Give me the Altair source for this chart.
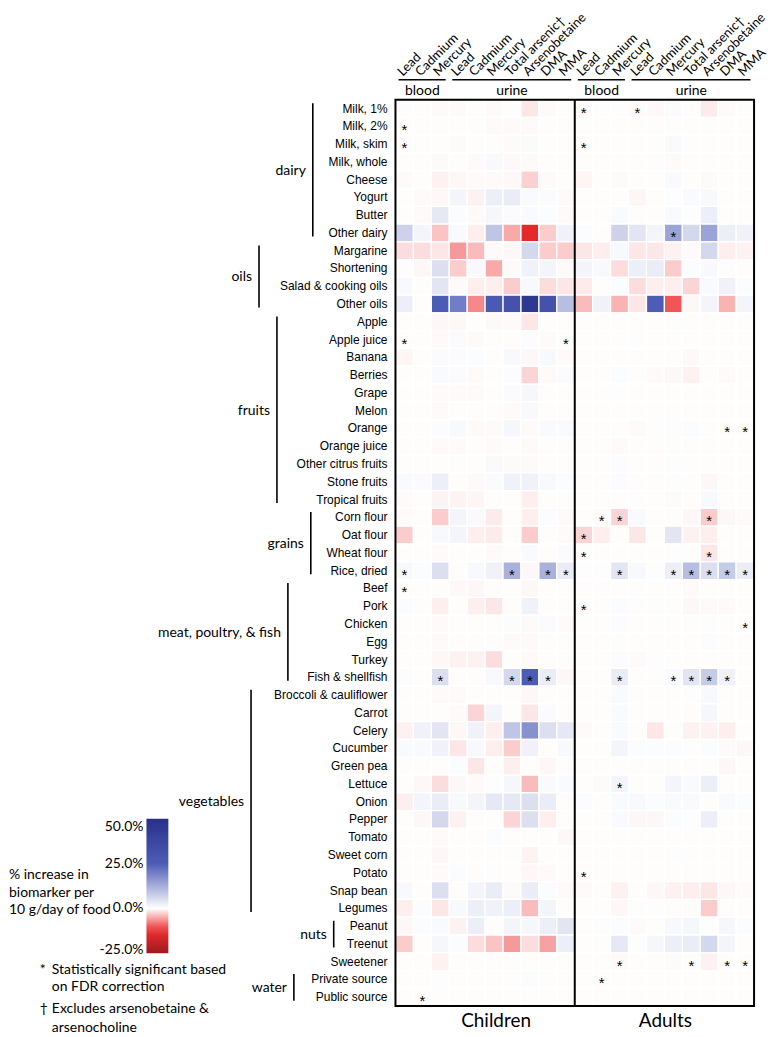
import altair as alt
import pandas as pd

foods = ["Milk, 1%", "Milk, 2%", "Milk, skim", "Milk, whole", "Cheese", "Yogurt", "Butter", "Other dairy",
         "Margarine", "Shortening", "Salad & cooking oils", "Other oils",
         "Apple", "Apple juice", "Banana", "Berries", "Grape", "Melon", "Orange", "Orange juice",
         "Other citrus fruits", "Stone fruits", "Tropical fruits",
         "Corn flour", "Oat flour", "Wheat flour", "Rice, dried",
         "Beef", "Pork", "Chicken", "Egg", "Turkey", "Fish & shellfish",
         "Broccoli & cauliflower", "Carrot", "Celery", "Cucumber", "Green pea", "Lettuce", "Onion",
         "Pepper", "Tomato", "Sweet corn", "Potato", "Snap bean", "Legumes",
         "Peanut", "Treenut", "Sweetener", "Private source", "Public source"]

group_names = ["dairy", "oils", "fruits", "grains", "meat, poultry, & fish", "vegetables", "nuts", "water"]
group_first = ["Milk, 1%", "Margarine", "Apple", "Corn flour", "Beef", "Broccoli & cauliflower", "Peanut", "Private source"]
group_last = ["Other dairy", "Other oils", "Tropical fruits", "Rice, dried", "Fish & shellfish", "Legumes", "Treenut", "Public source"]

col_keys = ["C0", "C1", "C2", "C3", "C4", "C5", "C6", "C7", "C8", "C9",
            "A0", "A1", "A2", "A3", "A4", "A5", "A6", "A7", "A8", "A9"]
col_names = ["Lead", "Cadmium", "Mercury", "Lead", "Cadmium", "Mercury", "Total arsenic\u2020",
             "Arsenobetaine", "DMA", "MMA"] * 2

# columns: blood Pb, Cd, Hg | urine Pb, Cd, Hg, total As, AsB, DMA, MMA  (% change)
children = [
    [-0.2, -0.2, -0.3, -0.3, -0.2, -0.3, -0.2, -1.5, -0.3, -0.2],
    [-0.2, -0.2, -0.2, -0.2, -0.2, -0.3, -0.3, -0.3, -0.2, -0.2],
    [-0.2, -0.2, -0.2, -0.3, -0.2, -0.2, -0.3, 0.6, -0.2, -0.2],
    [-0.2, -0.2, -0.3, -0.2, -0.3, 1.0, -0.4, -0.3, -0.2, -0.2],
    [-0.3, -0.2, -0.8, -0.5, -0.3, -0.3, -0.4, -2.8, -0.3, -0.2],
    [-0.2, -0.3, -0.4, 1.5, -0.8, 2.5, 3.0, 0.8, 0.6, -0.3],
    [-0.2, -0.3, 3.5, 0.5, -0.3, 1.2, 0.6, 0.8, 0.5, -0.3],
    [7.0, 1.5, -3.5, 0.8, -1.0, 9.0, -5.0, -14.0, -3.0, 2.0],
    [-2.0, -2.0, -1.5, -6.0, -4.0, -0.3, -0.5, 6.0, -3.0, -3.0],
    [-0.2, -0.5, 5.0, -3.0, 1.0, -5.0, -0.3, 2.0, 1.5, -0.3],
    [1.0, -0.2, 4.0, -0.3, -1.0, -1.0, -3.0, 1.0, -2.0, -1.5],
    [2.5, -0.2, 26.0, 20.0, -7.0, 27.0, 31.0, 46.0, 31.0, 10.0],
    [-0.2, -0.2, -0.5, -0.5, -0.2, -0.4, -0.3, -1.5, -0.2, -0.2],
    [-0.2, -0.2, -0.3, 0.6, -0.3, -0.2, -0.2, 0.4, -0.3, -0.2],
    [-0.6, -0.2, 0.6, 0.6, 0.5, -0.2, 1.0, -0.5, 1.0, -0.3],
    [-0.2, -0.2, 0.8, 0.6, -0.3, -0.2, 0.4, -2.5, -0.3, 0.6],
    [-0.2, -0.2, -0.3, -0.3, -0.3, -0.2, 0.6, 1.2, -0.2, -0.2],
    [-0.2, -0.2, -0.3, -0.2, -0.2, -0.2, -0.3, 0.9, -0.2, -0.2],
    [-0.2, -0.2, 0.5, 1.0, -0.3, -0.3, 1.2, -0.3, 0.8, 0.8],
    [-0.2, -0.2, -0.3, -0.3, -0.2, -0.3, -0.2, -0.3, -0.2, -0.2],
    [-0.2, -0.2, -0.2, -0.2, -0.2, 0.7, -0.3, -0.3, -0.2, -0.2],
    [0.8, 0.6, 2.5, -0.2, -0.3, 0.6, 2.0, 2.0, 1.0, 0.5],
    [-0.3, -0.2, -0.7, -0.7, -0.6, -0.2, -0.2, -1.0, -0.2, -0.2],
    [-0.3, -0.2, -3.0, 1.5, 0.7, -1.2, -0.2, -1.0, 0.5, -0.3],
    [-3.0, -0.2, 1.0, 1.5, -1.0, -1.2, -0.2, -3.0, -0.2, -0.3],
    [-0.2, -0.2, -0.3, -0.2, -0.2, -0.3, -0.2, 0.8, -0.2, 0.6],
    [1.0, 0.5, 5.0, -0.2, 1.0, 2.0, 12.0, -0.5, 12.0, 3.0],
    [-0.2, -0.2, -0.2, -0.4, -0.5, -0.2, -0.2, -0.5, -0.2, -0.2],
    [0.5, -0.2, -1.0, -0.2, -1.0, -1.5, -0.2, 2.0, -0.2, -0.2],
    [-0.2, -0.2, -0.3, -0.2, -0.2, -0.2, 0.5, -0.3, 0.6, -0.3],
    [-0.2, -0.2, -0.3, -0.2, -0.2, -0.2, -0.3, -0.3, -0.2, -0.2],
    [-0.2, -0.2, -0.5, -0.8, -0.8, -2.0, -0.2, -0.3, -0.2, -0.2],
    [0.4, -0.2, 5.0, -0.2, -0.2, 1.0, 6.0, 26.0, 3.0, -0.5],
    [-0.2, -0.2, -0.3, -0.3, -0.2, -0.2, -0.2, -0.5, -0.2, -0.2],
    [-0.2, -0.2, -0.2, -0.3, -2.5, 1.5, -0.2, -1.5, 0.6, -0.2],
    [-0.8, 2.0, 4.0, -0.5, 2.0, -1.0, 9.0, 17.0, 5.0, 3.5],
    [0.8, 0.8, 2.0, -1.5, 1.0, -1.0, -3.0, 2.0, -0.2, 1.0],
    [-0.2, -0.2, -0.2, 0.5, -1.5, -0.2, -1.0, -0.2, -0.5, -0.2],
    [-0.2, -0.5, -2.0, -0.5, -0.3, 0.3, 1.2, -4.0, 0.8, 0.8],
    [-1.0, 1.5, 3.0, 1.0, 1.5, 3.5, 3.5, 5.0, 3.0, -0.2],
    [-0.2, -0.5, 6.0, -0.8, -0.2, -0.2, -2.5, 5.0, -1.0, -0.2],
    [-0.2, -0.2, -0.3, -0.2, -0.2, 0.5, -0.2, -0.2, -0.2, -0.5],
    [-0.2, -0.2, -0.5, -0.2, -0.2, -0.2, -0.2, -0.7, -0.2, -0.2],
    [-0.2, -0.2, -0.3, 0.5, -0.2, 0.3, -0.2, -0.5, -0.3, -0.2],
    [1.0, -0.2, 5.0, -0.2, 1.5, 3.0, -0.3, 3.0, 0.5, -0.3],
    [-1.0, 0.5, -1.5, 1.0, 2.5, 2.0, 2.5, -4.0, 1.5, -0.2],
    [-0.5, 0.5, 0.8, -0.8, 2.5, -0.2, 1.5, 1.2, 2.5, 4.0],
    [-3.0, -0.2, 1.2, 0.5, -2.0, -3.5, -6.0, -2.0, -5.5, 2.5],
    [-0.2, -0.2, -0.8, -0.2, -0.2, -0.2, -0.2, -0.2, -0.2, -0.2],
    [-0.2, -0.2, 0.3, -0.2, -0.2, -0.2, -0.2, 0.5, -0.2, -0.2],
    [-0.2, -0.2, -0.2, -0.2, -0.2, -0.2, -0.2, -0.2, -0.2, -0.2],
]

adults = [
    [-0.3, -0.2, -0.2, -0.3, -0.4, 0.6, -0.2, -1.2, -0.3, -0.2],
    [-0.2, -0.2, -0.2, -0.2, -0.2, -0.2, -0.2, -0.2, -0.2, -0.2],
    [-0.2, -0.2, -0.2, -0.2, -0.2, 0.8, -0.2, -0.2, -0.2, -0.2],
    [-0.2, -0.2, -0.2, -0.2, -0.2, -0.3, -0.2, -0.2, -0.2, -0.2],
    [-0.6, -0.2, -0.3, -0.2, -0.2, 0.8, -0.2, -0.3, -0.2, -0.2],
    [-0.2, -0.2, -0.2, -0.6, -0.2, 0.3, 0.8, 1.0, -0.2, -0.2],
    [-0.2, -0.2, 0.8, -0.2, -0.2, 0.8, 0.3, 2.5, -0.2, -0.2],
    [0.5, -0.2, 7.0, 4.0, 1.5, 14.0, 6.0, 14.0, 2.5, 2.0],
    [-1.5, -1.0, 1.0, -1.5, -1.5, -0.8, -0.3, 6.0, -1.0, -0.8],
    [1.5, 1.0, -2.0, 2.5, 3.0, -3.0, 0.5, 1.0, -0.2, -0.2],
    [-1.2, -0.2, 0.5, -2.0, -1.0, -1.0, -2.5, 0.8, 2.0, 0.5],
    [-4.0, 2.0, -4.5, -1.5, 25.0, -10.0, -0.5, 1.5, -4.5, 1.5],
    [-0.2, -0.2, -0.2, -0.2, -0.2, 0.3, -0.2, -0.2, -0.2, -0.2],
    [-0.2, -0.2, -0.2, 0.3, -0.2, -0.2, -0.2, -0.2, -0.2, -0.2],
    [-0.2, -0.2, -0.2, -0.2, -0.2, -0.2, -0.4, -0.2, -0.2, -0.2],
    [-0.2, -0.2, 0.5, -0.2, -0.3, -0.5, -0.8, -0.2, -0.3, -0.2],
    [-0.2, -0.2, 0.3, -0.2, -0.2, -0.2, -0.2, -0.2, -0.2, -0.2],
    [-0.2, -0.2, -0.2, -0.2, -0.2, -0.2, -0.2, -0.2, -0.2, -0.2],
    [-0.2, -0.2, -0.2, -0.3, 0.3, 0.3, 0.5, -0.2, -0.2, -0.2],
    [-0.2, -0.2, -0.3, -0.2, -0.2, -0.2, -0.2, -0.2, -0.2, -0.2],
    [-0.2, -0.2, 0.4, -0.2, -0.2, 0.3, -0.2, -0.2, -0.2, -0.2],
    [-0.2, -0.2, 0.4, -0.2, -0.2, 0.3, -0.2, -0.5, -0.2, -0.2],
    [-0.2, -0.2, -0.2, -0.2, -0.2, -0.3, -0.2, 1.0, -0.2, -0.2],
    [-0.2, -0.3, -2.5, 0.8, -0.2, -0.2, -0.5, -3.0, -0.5, -0.3],
    [-2.5, -1.0, -0.2, -1.5, -0.2, 4.0, -0.8, -1.0, -0.2, -0.2],
    [-0.2, -0.2, -0.2, -0.2, -0.2, 0.3, -0.2, -1.5, -0.2, -0.2],
    [0.3, 0.3, 4.0, 1.0, 0.3, 2.5, 10.0, 5.0, 8.0, 3.0],
    [-0.2, -0.2, -0.2, -0.2, -0.2, -0.2, -0.3, -0.2, -0.2, -0.2],
    [-0.2, -0.2, 0.5, -0.2, 0.3, -0.2, -0.5, -0.3, -0.3, -0.2],
    [-0.2, -0.2, 0.4, -0.2, -0.2, -0.2, -0.2, 0.3, -0.2, -0.2],
    [-0.2, -0.2, -0.2, -0.2, -0.2, -0.2, -0.2, 0.4, -0.2, -0.2],
    [-0.2, -0.2, 0.4, -0.3, 0.3, -0.2, -0.2, -0.2, -0.2, -0.2],
    [-0.2, -0.2, 3.0, -0.2, -0.2, 0.8, 4.0, 8.0, 2.0, -0.2],
    [-0.2, -0.2, 0.8, -0.2, -0.2, -0.2, 0.3, 1.0, -0.2, -0.2],
    [-0.2, -0.2, 0.8, -0.2, -0.2, -0.2, -0.2, 1.2, -0.2, -0.2],
    [-0.3, -0.2, 0.8, -0.2, -1.5, -0.2, -0.8, -0.8, -1.0, -0.2],
    [-0.2, -0.2, 1.5, 0.5, 0.5, 0.5, 0.3, 0.5, -0.3, -0.5],
    [-0.2, -0.2, -0.2, -0.2, -0.2, -0.2, -0.2, -0.2, -0.5, -0.2],
    [-0.2, -0.3, 1.5, -0.2, -0.2, 1.5, 0.8, 2.5, -0.2, -0.2],
    [0.5, -0.2, 0.8, 1.0, 0.5, 0.8, 0.8, -0.2, 0.8, 0.5],
    [-0.2, -0.2, 0.8, -0.5, -0.5, 0.5, 0.3, 2.5, -0.2, -0.2],
    [-0.2, -0.2, -0.2, -0.2, -0.2, -0.2, -0.2, -0.2, -0.2, -0.2],
    [-0.2, -0.2, -0.2, -0.2, -0.2, 0.3, -0.2, -0.2, -0.2, -0.2],
    [-0.2, -0.2, -0.2, -0.2, -0.2, -0.2, -0.2, -0.2, -0.2, -0.2],
    [-0.3, -0.2, -0.8, -0.2, -0.5, -0.8, -1.0, -1.5, -0.5, -0.3],
    [-0.2, -0.2, -0.5, 0.3, 0.3, -0.2, -0.2, -3.0, -0.2, -0.2],
    [-0.2, 0.3, 0.5, -0.3, -0.2, 1.0, 1.2, 0.3, 1.2, 0.5],
    [-0.2, -0.2, 3.5, 0.3, 1.2, 2.5, 3.0, 6.0, 1.5, -0.2],
    [-0.2, -0.2, -0.3, -0.2, -0.2, -0.3, -0.2, -0.8, -0.2, -0.2],
    [-0.2, -0.2, -0.2, -0.2, -0.2, -0.2, -0.2, -0.2, -0.2, -0.2],
    [-0.2, -0.2, -0.2, -0.2, -0.2, -0.2, -0.2, -0.2, -0.2, -0.2],
]

# significant cells: (food index, column index)
children_sig = [(1, 0), (2, 0), (13, 0), (13, 9), (26, 0), (26, 6), (26, 8), (26, 9), (27, 0),
                (32, 2), (32, 6), (32, 7), (32, 8), (50, 1)]
adults_sig = [(0, 0), (0, 3), (2, 0), (7, 5), (18, 8), (18, 9), (23, 1), (23, 2), (23, 7), (24, 0),
              (25, 0), (25, 7), (26, 2), (26, 5), (26, 6), (26, 7), (26, 8), (26, 9), (28, 0), (29, 9),
              (32, 2), (32, 5), (32, 6), (32, 7), (32, 8), (38, 2), (43, 0), (48, 2), (48, 6), (48, 8),
              (48, 9), (49, 1)]

legend_ticks = [-25, 0, 25, 50]
legend_tick_labels = ["-25.0%", "0.0%", "25.0%", "50.0%"]

# ---------------- layout (pixels, relative to plot area) ----------------
W, H = 360, 910
bracket_x = [-83, -137, -119, -85, -108, -145, -62, -102]
LEG_X, LEG_Y, LEG_LEN, LEG_W = -250, 722, 135, 22

rows = []
for i, f in enumerate(foods):
    for j in range(10):
        rows.append({"food": f, "key": col_keys[j], "value": children[i][j]})
        rows.append({"food": f, "key": col_keys[10 + j], "value": adults[i][j]})
cells = pd.DataFrame(rows)

sig = pd.DataFrame([{"food": foods[i], "key": col_keys[j]} for i, j in children_sig] +
                   [{"food": foods[i], "key": col_keys[10 + j]} for i, j in adults_sig])

xscale = alt.Scale(domain=col_keys, paddingInner=0, paddingOuter=0)
yscale = alt.Scale(domain=foods, paddingInner=0, paddingOuter=0)

color_scale = alt.Scale(domain=[-25, -12.5, 0, 25, 50],
                        range=["#9b1b1e", "#ed2b2c", "#ffffff", "#4d5db5", "#28308a"],
                        interpolate="rgb")

heat = alt.Chart(cells).mark_rect(stroke="white", strokeWidth=1.3).encode(
    x=alt.X("key:N", scale=xscale, axis=None),
    y=alt.Y("food:N", scale=yscale, sort=foods, axis=None),
    color=alt.Color("value:Q", scale=color_scale,
                    legend=alt.Legend(orient="none", legendX=LEG_X, legendY=LEG_Y, direction="vertical",
                                      gradientLength=LEG_LEN, gradientThickness=LEG_W, title=None,
                                      values=legend_ticks, labelExpr="''", padding=0,
                                      gradientStrokeWidth=0)),
)

frame = alt.Chart(pd.DataFrame({"a": [0]})).mark_rect(
    fillOpacity=0, stroke="black", strokeWidth=2).encode(
    x=alt.value(0), x2=alt.value(W), y=alt.value(0), y2=alt.value(H))

# row labels
row_labels = alt.Chart(pd.DataFrame({"food": foods})).mark_text(
    font="Liberation Sans", fontSize=12, color="black", align="right", baseline="middle").encode(
    x=alt.value(-8), y=alt.Y("food:N", axis=None), text="food:N")

# column labels (angled)
col_labels = alt.Chart(pd.DataFrame({"key": col_keys, "label": col_names})).mark_text(
    font="Lato", fontSize=13, color="black", align="left", baseline="alphabetic", angle=315).encode(
    x=alt.X("key:N", bandPosition=0.4, axis=None), y=alt.value(-23), text="label:N")

stars = alt.Chart(sig).mark_text(text="*", font="Liberation Sans", fontSize=15, dy=4,
                                  color="black").encode(
    x=alt.X("key:N", axis=None), y=alt.Y("food:N", axis=None))

divider = alt.Chart(pd.DataFrame({"key": ["A0"]})).mark_rule(color="black", strokeWidth=2).encode(
    x=alt.X("key:N", bandPosition=0, axis=None), y=alt.value(0), y2=alt.value(H))

hdr = pd.DataFrame({
    "label": ["blood", "urine", "blood", "urine"],
    "key": ["C0", "C3", "A0", "A3"],
    "key2": ["C2", "C9", "A2", "A9"],
    "mid": ["C1", "C6", "A1", "A6"],
})
hdr_lines = alt.Chart(hdr).mark_rule(color="black", strokeWidth=1.5).encode(
    x=alt.X("key:N", bandPosition=0.17, axis=None),
    x2=alt.X2("key2:N", bandPosition=0.8),
    y=alt.value(-20))
hdr_text = alt.Chart(hdr).mark_text(font="Lato", fontSize=14, color="black", baseline="middle").encode(
    x=alt.X("mid:N", axis=None), y=alt.value(-9), text="label:N")

layers = [heat, frame, divider, row_labels, col_labels, stars, hdr_lines, hdr_text]

for key, label, shift in [("C4", "Children", 11), ("A4", "Adults", 1)]:
    layers.append(alt.Chart(pd.DataFrame({"key": [key], "label": [label]})).mark_text(
        font="Lato", fontSize=19, color="black", baseline="middle", dx=shift).encode(
        x=alt.X("key:N", bandPosition=1, axis=None), y=alt.value(H + 15), text="label:N"))

for name, first, last, bx in zip(group_names, group_first, group_last, bracket_x):
    i0, i1 = foods.index(first), foods.index(last)
    n = i1 - i0 + 1
    mid_food = foods[i0 + n // 2]
    bp = 0.5 if n % 2 == 1 else 0.0
    gdf = pd.DataFrame({"food": [first], "food2": [last], "mid": [mid_food], "name": [name]})
    layers.append(alt.Chart(gdf).mark_rule(color="black", strokeWidth=1.6).encode(
        x=alt.value(bx), y=alt.Y("food:N", bandPosition=0.2, axis=None),
        y2=alt.Y2("food2:N", bandPosition=0.7)))
    layers.append(alt.Chart(gdf).mark_text(font="Lato", fontSize=14, color="black", align="right",
                                           baseline="middle").encode(
        x=alt.value(bx - 7), y=alt.Y("mid:N", bandPosition=bp, axis=None), text="name:N"))

# colour bar tick labels (left of the bar)
for v, lab in zip(legend_ticks, legend_tick_labels):
    yy = LEG_Y + (50 - v) / 75 * LEG_LEN
    if v == 50:
        yy += 8
    if v == -25:
        yy -= 3
    layers.append(alt.Chart(pd.DataFrame({"t": [lab]})).mark_text(
        font="Lato", fontSize=14, color="black", align="right", baseline="middle").encode(
        x=alt.value(LEG_X - 3), y=alt.value(yy), text="t:N"))

legend_title = ["% increase in", "biomarker per", "10 g/day of food"]
for k, line in enumerate(legend_title):
    layers.append(alt.Chart(pd.DataFrame({"t": [line]})).mark_text(
        font="Lato", fontSize=14, color="black", align="left", baseline="middle").encode(
        x=alt.value(-388), y=alt.value(778 + 18 * k), text="t:N"))

notes = [("*", "Statistically significant based", -36), ("", "on FDR correction", -19),
         ("\u2020", "Excludes arsenobetaine &", 3), ("", "arsenocholine", 22)]
for sym, txt, dy in notes:
    layers.append(alt.Chart(pd.DataFrame({"t": [txt]})).mark_text(
        font="Lato", fontSize=14, color="black", align="left", baseline="middle").encode(
        x=alt.value(-345), y=alt.value(H + dy), text="t:N"))
    if sym:
        layers.append(alt.Chart(pd.DataFrame({"t": [sym]})).mark_text(
            font="Lato", fontSize=14, color="black", align="left", baseline="middle").encode(
            x=alt.value(-357), y=alt.value(H + dy), text="t:N"))

chart = alt.layer(*layers).properties(
    width=W, height=H,
    autosize=alt.AutoSizeParams(type="none"),
    padding={"left": 389, "top": 90, "right": 14, "bottom": 30},
).configure_view(stroke="transparent")

chart.save("out.html", embed_options={"renderer": "svg", "actions": False})
